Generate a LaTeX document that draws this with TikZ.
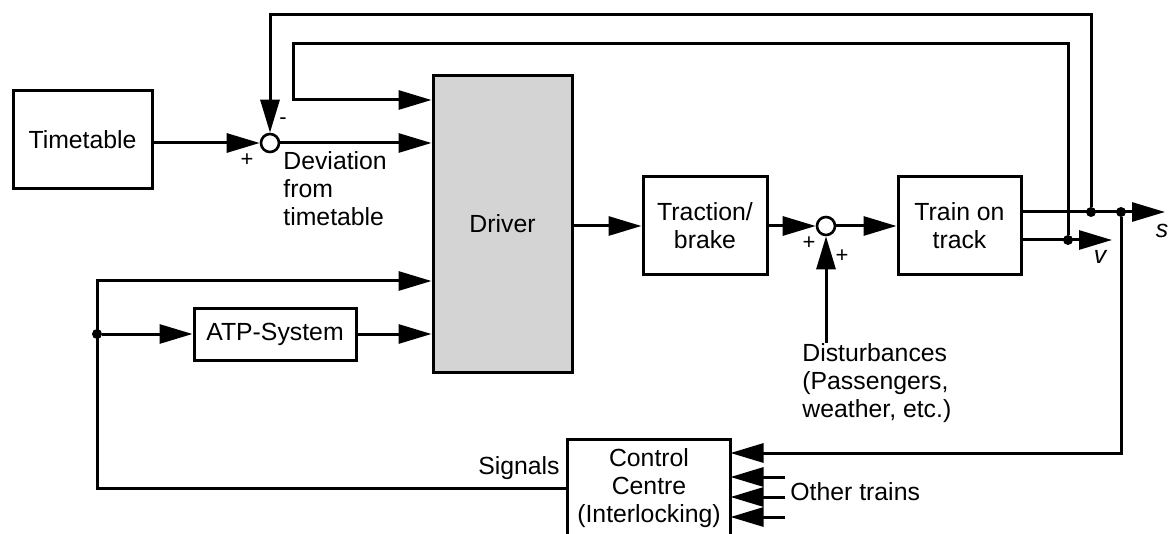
\documentclass[tikz,border=0pt]{standalone}
\usepackage{fontspec}
\setmainfont{Liberation Sans}
\usetikzlibrary{arrows.meta,positioning,calc}

\begin{document}
\begin{tikzpicture}[
    x=0.5pt, y=-0.5pt,
    font=\fontsize{12.4}{14}\selectfont,
    >={Triangle[length=16.5pt, width=9.5pt]},
    block/.style ={rectangle, draw=black, line width=1.5pt, align=center,
                   inner sep=2pt},
    junc/.style  ={circle, draw=black, line width=1.3pt, minimum size=9pt,
                   inner sep=0pt, fill=white},
    dot/.style   ={circle, fill=black, minimum size=5pt, inner sep=0pt},
    flow/.style  ={->, line width=1.5pt},
    wire/.style  ={line width=1.5pt},
    sgn/.style   ={font=\fontsize{11}{12}\selectfont, inner sep=0pt},
    lbl/.style   ={align=left, inner sep=0pt},
]
\clip (0,0) rectangle (1172,534);

% ----------------------------------------------------------------------
%  blocks
% ----------------------------------------------------------------------
\node[block, minimum width=69.5pt, minimum height=49pt] (tt) at (82.5,140) {Timetable};
\node[junc] (sum1) at (270,143) {};
\node[block, fill=black!17, minimum width=69.5pt, minimum height=148pt]
        (driver) at (502.5,224) {Driver};
\node[block, minimum width=81pt, minimum height=26pt] (atp) at (275,334) {ATP-System};
\node[block, minimum width=62pt, minimum height=49pt] (traction) at (705,226)
        {Traction/\\brake};
\node[junc] (sum2) at (826,226) {};
\node[block, minimum width=61.5pt, minimum height=49pt] (train) at (959.5,226)
        {Train on\\track};
\node[block, draw=none, minimum width=80pt, minimum height=47pt] (cc) at (649,488)
        {Control\\Centre\\(Interlocking)};
\draw[wire] ([yshift=-10pt]cc.south west) -- (cc.north west) -- (cc.north east)
      -- ([yshift=-10pt]cc.south east);

% --- branch points and free ends ---
\node[dot] (sdot1) at (1091,212) {};
\node[dot] (sdot2) at (1121,212) {};
\node[dot] (vdot)  at (1068,240) {};
\node[dot] (adot)  at (97,334) {};
\coordinate (send)  at (1165,212);
\coordinate (vend)  at (1112,240);
\coordinate (fbout) at (0,15);
\coordinate (fbin)  at (0,44);
\coordinate (inB)   at (293,100);
\coordinate (sigL)  at (97,488);
\coordinate (drvC)  at (0,281);
\coordinate (ccA)   at (0,453);

% ----------------------------------------------------------------------
%  forward path
% ----------------------------------------------------------------------
\draw[flow] (tt.east |- sum1) -- (sum1.west);
\draw[flow] (sum1.east) -- (sum1 -| driver.west);
\draw[flow] (driver.east |- traction) -- (traction.west);
\draw[flow] (traction.east) -- (sum2.west);
\draw[flow] (sum2.east) -- (train.west);
\draw[flow] (train.east |- send) -- (send);
\draw[flow] (train.east |- vend) -- (vend);

% feedback of s and v
\draw[flow] (sdot1) -- (sdot1 |- fbout) -- (fbout -| sum1) -- (sum1.north);
\draw[flow] (vdot) -- (vdot |- fbin) -- (fbin -| inB) -- (inB) -- (inB -| driver.west);

% disturbances
\node[lbl, anchor=north west] (dist) at (802,343)
        {Disturbances\\(Passengers,\\weather, etc.)};
\draw[flow] (dist.north -| sum2) -- (sum2.south);

% control centre in / out
\draw[flow] (sdot2) -- (sdot2 |- ccA) -- (ccA -| cc.east);
\foreach \y [count=\i] in {477,497,517} {
  \coordinate (ot\i) at (785,\y);
  \draw[flow] (ot\i) -- (ot\i -| cc.east);
}
\node[anchor=west, inner sep=0pt] (other) at (790,492) {Other trains};

\draw[flow] (cc.west |- sigL) -- (sigL) -- (sigL |- drvC) -- (drvC -| driver.west);
\draw[flow] (adot) -- (atp.west);
\draw[flow] (atp.east) -- (atp -| driver.west);
\node[anchor=south east, inner sep=0pt] (signals) at (560,480) {Signals};

% ----------------------------------------------------------------------
%  labels
% ----------------------------------------------------------------------
\node[lbl, anchor=north west] (devn) at (283,151) {Deviation\\from\\timetable};
\node[sgn] (p1) at (247,160) {+};
\node[sgn] (m1) at (283,121) {-};
\node[sgn] (p2) at (809,243) {+};
\node[sgn] (p3) at (842,256) {+};
\node[inner sep=0pt] (slbl) at (1162,231) {\itshape s};
\node[inner sep=0pt] (vlbl) at (1100,257) {\itshape v};

\end{tikzpicture}
\end{document}
